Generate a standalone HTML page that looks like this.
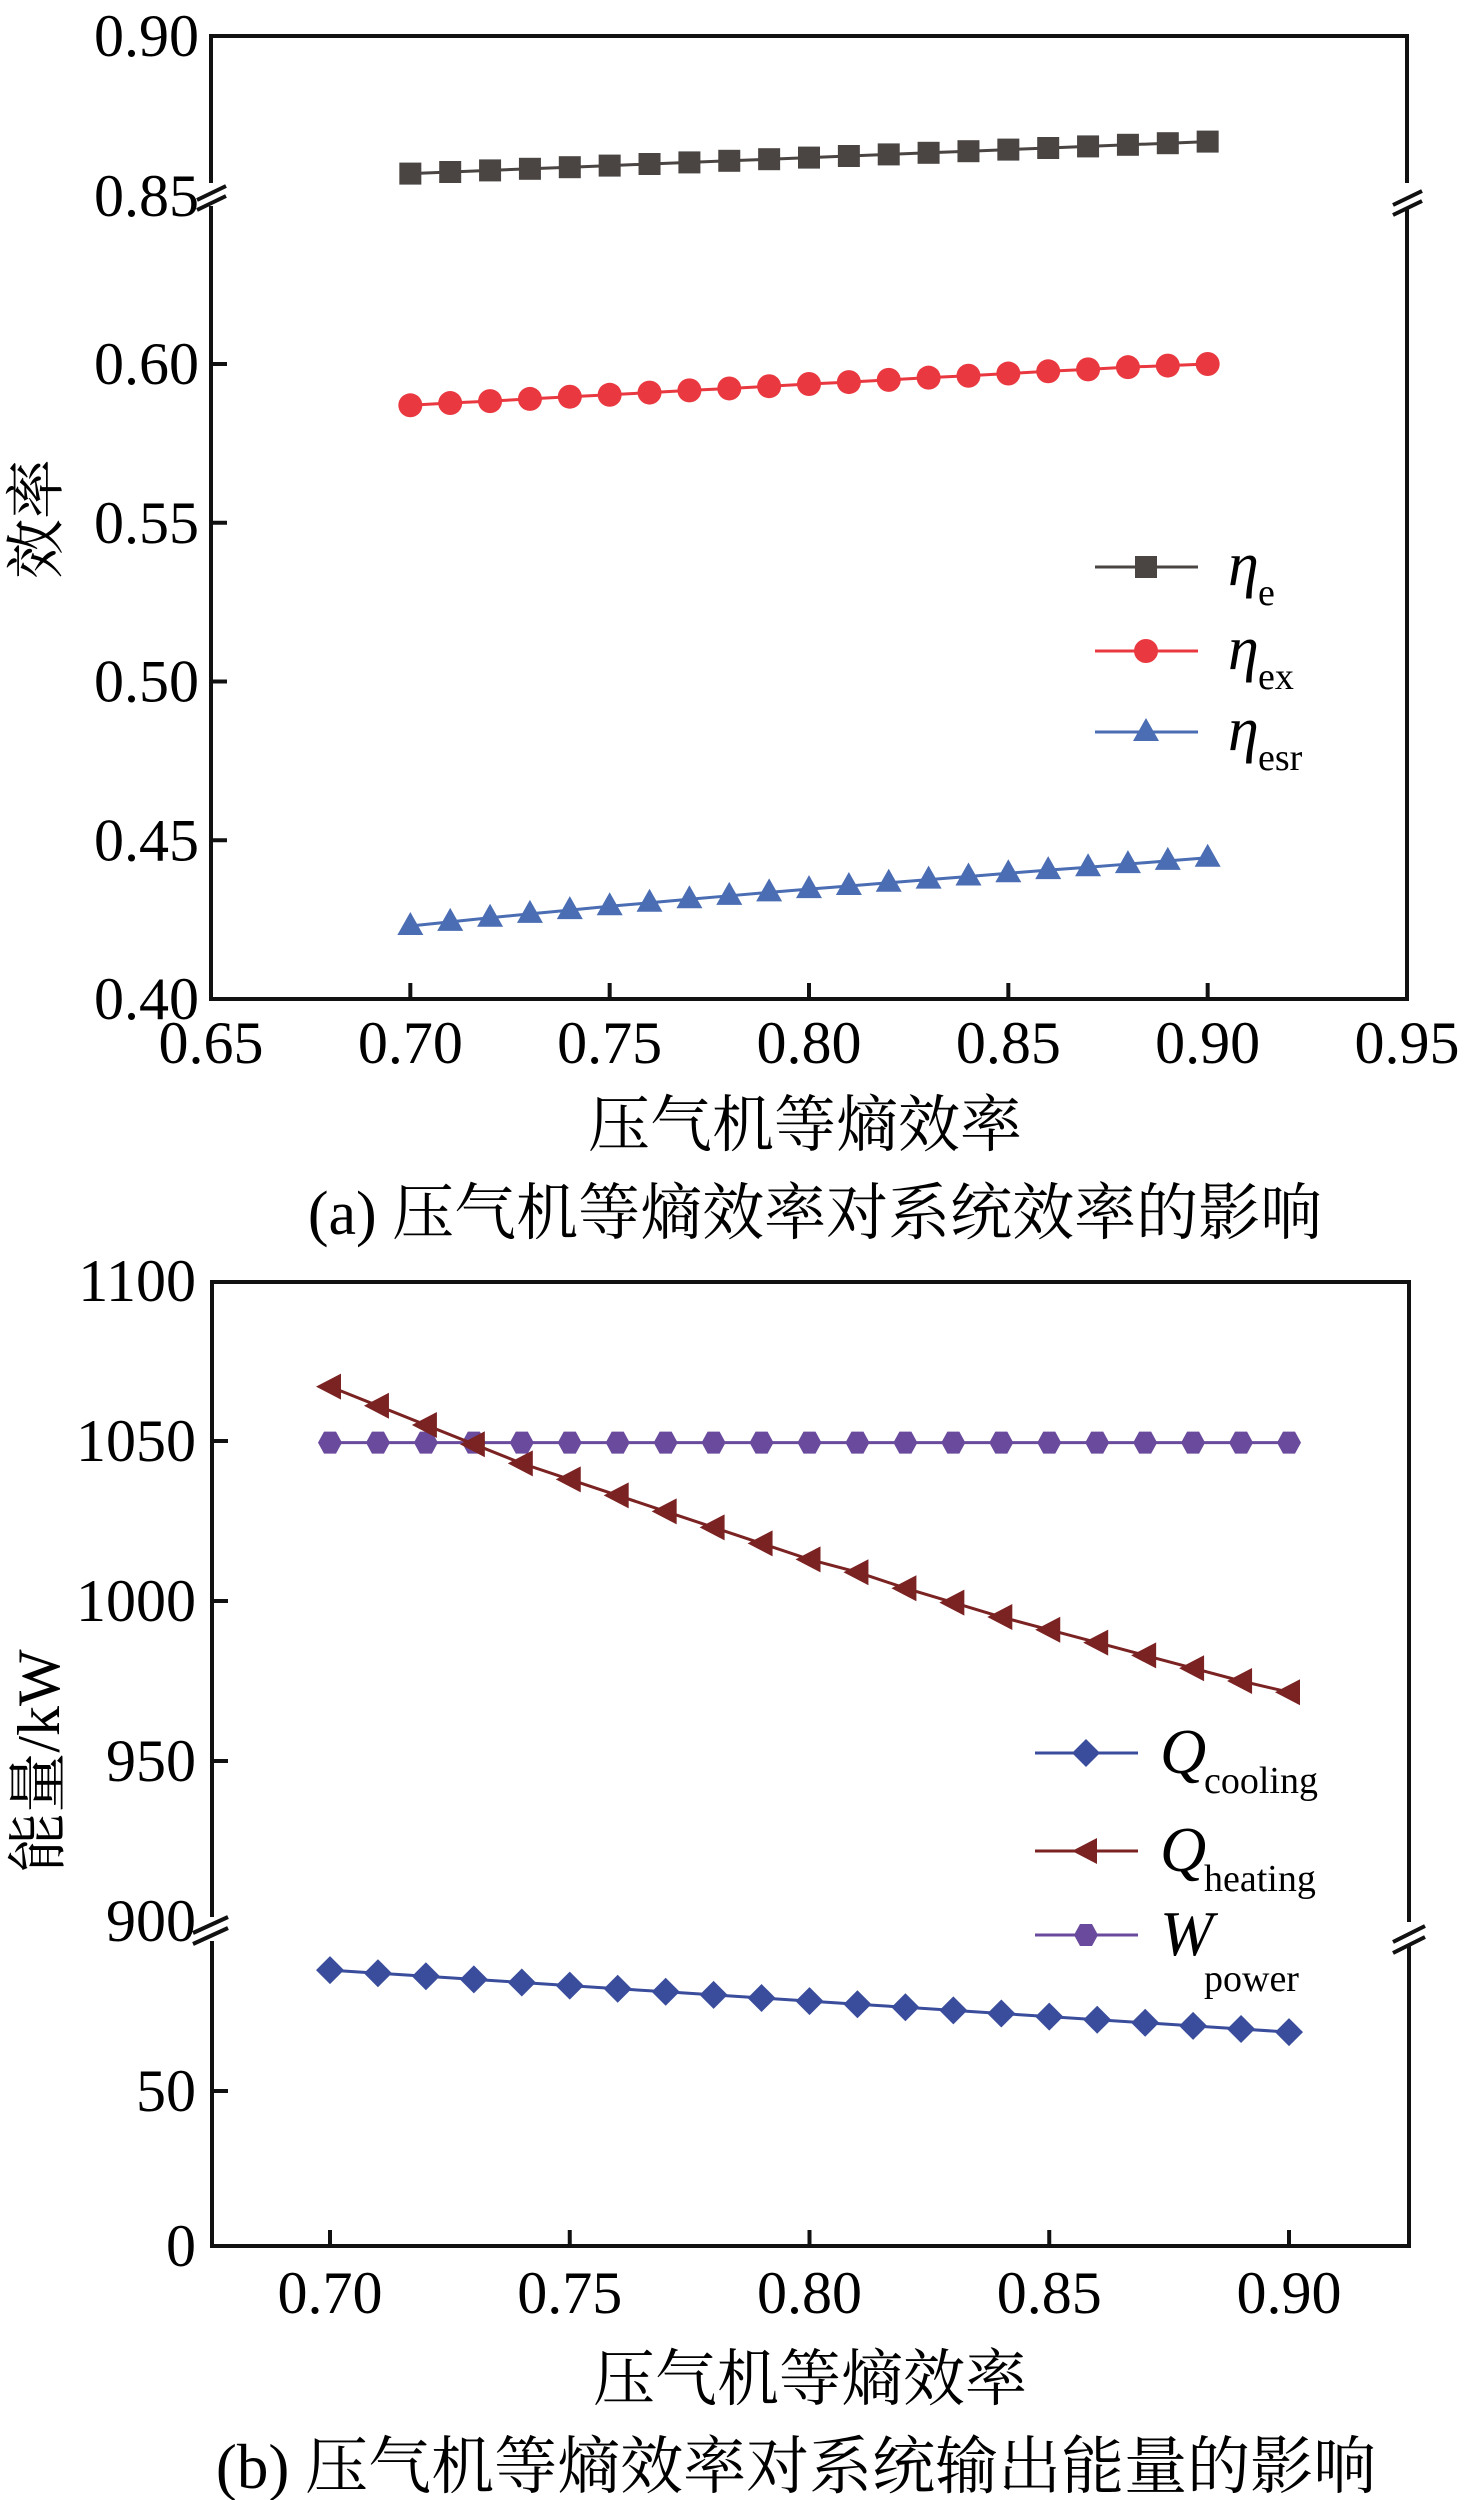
<!DOCTYPE html>
<html><head><meta charset="utf-8"><style>
html,body{margin:0;padding:0;background:#fff;}
svg{display:block;font-family:"Liberation Serif","Noto Serif CJK SC",serif;}
</style></head><body>
<svg id="chart" width="1465" height="2500" viewBox="0 0 1465 2500" xmlns="http://www.w3.org/2000/svg">
<g id="top"></g>
<g id="bot"></g>
</svg>
<script>
const xVals = [0.70,0.71,0.72,0.73,0.74,0.75,0.76,0.77,0.78,0.79,0.80,0.81,0.82,0.83,0.84,0.85,0.86,0.87,0.88,0.89,0.90];
const etaE = [0.8570,0.8575,0.8580,0.8585,0.8590,0.8595,0.8600,0.8605,0.8610,0.8615,0.8620,0.8625,0.8630,0.8635,0.8640,0.8645,0.8650,0.8655,0.8660,0.8665,0.8670];
const etaEx = [0.5870,0.5877,0.5883,0.5890,0.5897,0.5903,0.5910,0.5917,0.5923,0.5930,0.5937,0.5943,0.5950,0.5957,0.5963,0.5970,0.5977,0.5983,0.5990,0.5995,0.6000];
const etaEsr = [0.4230,0.4243,0.4256,0.4268,0.4280,0.4292,0.4303,0.4314,0.4325,0.4336,0.4346,0.4356,0.4366,0.4376,0.4386,0.4396,0.4406,0.4415,0.4425,0.4435,0.4445];
const qCooling = [89,88,87,86,85,84,83,82,81,80,79,78,77,76,75,74,73,72,71,70,69];
const qHeating = [1067,1061,1055,1049,1043,1038,1033,1028,1023,1018,1013,1009,1004,999.5,995,991,987,983,979,975,971.5];
const wPower = [1049.5,1049.5,1049.5,1049.5,1049.5,1049.5,1049.5,1049.5,1049.5,1049.5,1049.5,1049.5,1049.5,1049.5,1049.5,1049.5,1049.5,1049.5,1049.5,1049.5,1049.5];
const topXTicks = [0.65,0.70,0.75,0.80,0.85,0.90,0.95];
const topYTicks = [0.40,0.45,0.50,0.55,0.60,0.85,0.90];
const botXTicks = [0.70,0.75,0.80,0.85,0.90];
const botYTicks = [0,50,900,950,1000,1050,1100];
const botYLabels = ["0","50","900","950","1000","1050","1100"];

const NS="http://www.w3.org/2000/svg";
function mk(parent,tag,attrs,text){const e=document.createElementNS(NS,tag);for(const k in attrs)e.setAttribute(k,attrs[k]);if(text!==undefined)e.textContent=text;parent.appendChild(e);return e;}

const tx=v=>211+(v-0.65)/0.30*1196;
const ty=v=> v>=0.7 ? 196-(v-0.85)*3200 : 999-(v-0.40)/0.20*635;
const bx=v=>330+(v-0.70)/0.20*959;
const by=v=> v>=500 ? 1921-(v-900)*3.2 : 2246-v*3.1;

function marker(g,type,x,y,c,name){
  let e;
  if(type==='square') e=mk(g,'rect',{x:x-11,y:y-11,width:22,height:22,fill:c});
  else if(type==='circle') e=mk(g,'circle',{cx:x,cy:y,r:12,fill:c});
  else if(type==='tri') e=mk(g,'polygon',{points:`${x},${y-14} ${x+13},${y+9} ${x-13},${y+9}`,fill:c});
  else if(type==='diamond') e=mk(g,'polygon',{points:`${x},${y-14} ${x+14},${y} ${x},${y+14} ${x-14},${y}`,fill:c});
  else if(type==='left') e=mk(g,'polygon',{points:`${x-14},${y} ${x+11},${y-13} ${x+11},${y+13}`,fill:c});
  else if(type==='hex') e=mk(g,'polygon',{points:`${x-12},${y} ${x-6},${y-11} ${x+6},${y-11} ${x+12},${y} ${x+6},${y+11} ${x-6},${y+11}`,fill:c});
  
  
}
function series(g,X,Y,fx,fy,c,type,name){
  const sg=mk(g,'g',{});
  
  
  const pts=X.map((v,i)=>fx(v)+','+fy(Y[i])).join(' ');
  mk(sg,'polyline',{points:pts,fill:'none',stroke:c,'stroke-width':3});
  X.forEach((v,i)=>marker(sg,type,fx(v),fy(Y[i]),c,name+'-point'));
}

// ---------- top chart ----------
const T=document.getElementById('top');
const frameT=mk(T,'path',{d:'M211,183 L211,36 L1407,36 L1407,183 M1407,208 L1407,999 L211,999 L211,206',fill:'none',stroke:'#111','stroke-width':4});


mk(T,'path',{d:'M197,200 L226,186 M197,210 L226,196 M1393,205 L1422,191 M1393,215 L1422,201',stroke:'#111','stroke-width':4,fill:'none'});
topXTicks.forEach(v=>{
  const x=tx(v);
  if(v>0.66&&v<0.94) mk(T,'line',{x1:x,y1:999,x2:x,y2:983,stroke:'#111','stroke-width':4});
  const t=mk(T,'text',{x:x,y:1063,'font-size':60,'text-anchor':'middle'},v.toFixed(2));
  
  
});
topYTicks.forEach(v=>{
  const y=ty(v);
  if(v>0.41&&v<0.61) mk(T,'line',{x1:211,y1:y,x2:227,y2:y,stroke:'#111','stroke-width':4});
  const t=mk(T,'text',{x:199,y:y+20,'font-size':60,'text-anchor':'end'},v.toFixed(2));
  
  
});
series(T,xVals,etaE,tx,ty,'#4a4542','square','series-eta-e');
series(T,xVals,etaEx,tx,ty,'#e9383f','circle','series-eta-ex');
series(T,xVals,etaEsr,tx,ty,'#4a6db3','tri','series-eta-esr');
[['#4a4542','square','e',567],['#e9383f','circle','ex',651],['#4a6db3','tri','esr',732]].forEach(([c,m,s,y])=>{
  const lg=mk(T,'g',{});
  
  
  mk(lg,'line',{x1:1095,y1:y,x2:1198,y2:y,stroke:c,'stroke-width':3});
  marker(lg,m,1146,y,c,'legend-marker');
  mk(lg,'text',{x:1228,y:y+18,'font-size':62,'font-style':'italic'},'η');
  mk(lg,'text',{x:1258,y:y+38,'font-size':38},s);
});
const yt1=mk(T,'text',{x:0,y:0,'font-size':60,'text-anchor':'middle',transform:'translate(57,519) rotate(-90)'},'效率');


const xt1=mk(T,'text',{x:805,y:1146,'font-size':62,'text-anchor':'middle'},'压气机等熵效率');


const cap1=mk(T,'text',{x:815,y:1234,'font-size':62,'text-anchor':'middle'},'(a) 压气机等熵效率对系统效率的影响');



// ---------- bottom chart ----------
const B=document.getElementById('bot');
const frameB=mk(B,'path',{d:'M212,1917 L212,1282 L1409,1282 L1409,1922 M1409,1946 L1409,2246 L212,2246 L212,1941',fill:'none',stroke:'#111','stroke-width':4});


mk(B,'path',{d:'M193,1933 L228,1917 M193,1944 L228,1928 M1393,1942 L1425,1926 M1393,1953 L1425,1937',stroke:'#111','stroke-width':4,fill:'none'});
botXTicks.forEach(v=>{
  const x=bx(v);
  mk(B,'line',{x1:x,y1:2246,x2:x,y2:2230,stroke:'#111','stroke-width':4});
  const t=mk(B,'text',{x:x,y:2313,'font-size':60,'text-anchor':'middle'},v.toFixed(2));
  
  
});
botYTicks.forEach((v,i)=>{
  const y=by(v);
  if(v>0&&v<1100&&v!==900) mk(B,'line',{x1:212,y1:y,x2:228,y2:y,stroke:'#111','stroke-width':4});
  const t=mk(B,'text',{x:196,y:y+20,'font-size':60,'text-anchor':'end'},botYLabels[i]);
  
  
});
series(B,xVals,wPower,bx,by,'#6a4a9c','hex','series-w-power');
series(B,xVals,qHeating,bx,by,'#7b2222','left','series-q-heating');
series(B,xVals,qCooling,bx,by,'#3a4c9c','diamond','series-q-cooling');
[['#3a4c9c','diamond','Q','cooling',1753,40],['#7b2222','left','Q','heating',1851,40],['#6a4a9c','hex','W','power',1935,56]].forEach(([c,m,L,s,y,dy])=>{
  const lg=mk(B,'g',{});
  
  
  mk(lg,'line',{x1:1035,y1:y,x2:1138,y2:y,stroke:c,'stroke-width':3});
  marker(lg,m,1086,y,c,'legend-marker');
  mk(lg,'text',{x:1160,y:y+20,'font-size':64,'font-style':'italic'},L);
  mk(lg,'text',{x:1204,y:y+dy,'font-size':38},s);
});
const yt2=mk(B,'text',{x:0,y:0,'font-size':60,'text-anchor':'middle',transform:'translate(59,1761) rotate(-90)'},'能量/kW');


const xt2=mk(B,'text',{x:810,y:2400,'font-size':62,'text-anchor':'middle'},'压气机等熵效率');


const cap2=mk(B,'text',{x:796,y:2488,'font-size':63,'text-anchor':'middle'},'(b) 压气机等熵效率对系统输出能量的影响');


</script>
</body></html>
